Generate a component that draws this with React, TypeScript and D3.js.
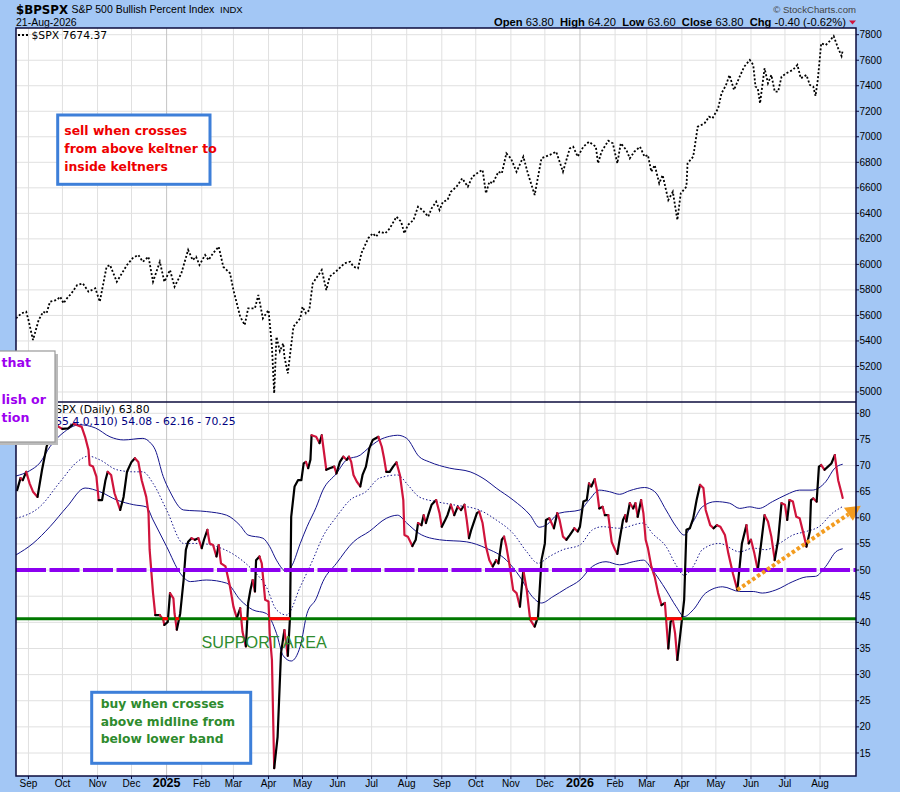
import React from "react";
import * as d3 from "d3";

// ---------- DATA ----------
const START_DATE = "2024-08-21";
const END_DATE = "2026-08-21";

// [days since START_DATE, $SPX close]
const spxSeries: [number, number][] = [
  [0,5577],[5,5617],[9,5629],[11,5564],[15,5407],[20,5564],[24,5629],[27,5617],[30,5708],[36,5721],[39,5747],[42,5695],[45,5734],[49,5773],[54,5838],[59,5851],[64,5786],[70,5813],[74,5708],[80,5982],[83,5995],[89,5864],[98,5995],[103,6048],[108,6074],[112,6021],[117,6060],[121,5864],[127,6021],[131,5864],[136,5956],[140,5825],[146,5930],[152,6113],[156,6034],[159,6060],[162,5995],[167,6074],[170,6034],[174,6087],[179,6139],[183,5982],[189,5930],[192,5799],[198,5590],[202,5525],[205,5656],[211,5656],[214,5760],[218,5577],[223,5642],[226,5355],[228,4990],[230,5433],[233,5320],[236,5381],[237,5277],[240,5146],[245,5512],[251,5577],[253,5668],[256,5617],[259,5642],[262,5851],[270,5956],[274,5799],[277,5904],[284,5956],[290,6008],[295,6021],[298,5982],[302,5969],[305,6087],[311,6204],[315,6243],[318,6217],[321,6256],[326,6243],[330,6282],[336,6374],[340,6335],[343,6243],[346,6308],[351,6348],[355,6452],[359,6426],[364,6374],[367,6439],[371,6491],[374,6426],[377,6491],[381,6504],[384,6569],[389,6609],[394,6674],[399,6609],[403,6687],[409,6726],[412,6740],[415,6557],[418,6648],[421,6635],[426,6726],[429,6713],[433,6870],[437,6831],[442,6726],[448,6844],[452,6713],[458,6544],[464,6831],[471,6857],[477,6883],[483,6726],[489,6909],[492,6922],[496,6844],[501,6922],[506,6961],[512,6922],[514,6792],[517,6883],[523,6969],[527,6949],[531,6792],[534,6949],[539,6896],[542,6831],[546,6883],[551,6922],[555,6844],[558,6857],[561,6726],[564,6778],[568,6635],[571,6700],[576,6504],[580,6569],[584,6348],[587,6557],[592,6609],[593,6792],[598,6844],[602,7079],[608,7105],[612,7157],[615,7145],[620,7223],[623,7341],[627,7406],[630,7484],[634,7367],[639,7471],[643,7549],[648,7602],[651,7563],[653,7393],[655,7380],[657,7262],[661,7537],[664,7419],[667,7484],[670,7354],[673,7354],[676,7471],[680,7497],[686,7524],[690,7563],[693,7458],[698,7484],[701,7406],[704,7393],[706,7320],[708,7445],[711,7733],[715,7719],[718,7745],[722,7790],[726,7693],[729,7633],[730,7674.37]
];

// [days since START_DATE, $BPSPX]
const bpspxSeries: [number, number][] = [
  [1,65.3],[4,67.6],[6,67.2],[9,68.8],[12,66.6],[15,65.0],[19,64.0],[23,69.2],[27,73.6],[32,76.5],[37,77.5],[41,77.0],[46,77.1],[51,78.0],[58,77.4],[61,75.5],[64,73.0],[65,70.1],[68,69.8],[71,67.9],[73,63.4],[76,63.4],[79,67.2],[81,68.8],[84,68.2],[87,64.7],[92,61.5],[95,64.0],[98,68.8],[102,70.7],[105,71.4],[108,70.7],[111,67.2],[115,64.0],[117,60.9],[118,53.9],[121,45.6],[123,41.4],[127,41.4],[130,40.5],[131,39.5],[134,40.1],[136,45.6],[139,44.6],[140,41.7],[142,38.6],[145,41.7],[148,48.1],[150,53.9],[152,55.4],[155,56.1],[158,55.8],[161,56.1],[164,54.2],[166,55.8],[169,57.7],[171,55.1],[174,54.8],[177,52.6],[179,54.8],[181,51.3],[185,50.7],[189,46.8],[192,43.0],[195,40.8],[198,42.7],[200,38.2],[203,35.4],[205,43.7],[207,46.2],[209,48.1],[211,45.9],[212,51.9],[215,52.6],[217,51.3],[220,44.3],[223,44.0],[224,37.9],[226,32.8],[228,12.1],[231,18.1],[234,34.1],[237,38.5],[240,33.6],[242,41.1],[243,60.2],[246,66.0],[249,67.2],[252,67.2],[254,70.4],[256,70.7],[258,69.5],[260,71.1],[261,75.8],[265,75.5],[268,74.3],[270,75.8],[274,69.2],[277,69.5],[281,69.8],[283,68.5],[286,70.7],[289,71.7],[292,71.1],[294,71.7],[296,70.7],[298,68.2],[301,66.9],[304,66.0],[306,68.2],[309,69.8],[312,73.3],[315,74.9],[320,75.5],[323,73.6],[325,71.4],[327,68.8],[330,68.8],[333,69.8],[336,70.6],[339,68.2],[342,63.4],[343,56.7],[346,56.4],[350,54.6],[353,55.8],[355,59.0],[358,58.6],[360,60.5],[362,59.0],[364,60.5],[367,62.5],[371,63.4],[374,60.9],[376,58.3],[379,59.6],[381,60.5],[384,62.5],[387,60.5],[390,62.1],[393,61.5],[396,62.5],[398,59.6],[400,56.1],[402,57.7],[407,60.9],[409,61.2],[412,59.0],[415,54.5],[418,51.9],[421,50.7],[424,51.9],[426,51.3],[429,55.8],[431,56.4],[433,54.5],[436,50.7],[439,46.2],[442,45.6],[445,43.0],[448,50.0],[451,46.2],[454,40.5],[458,39.2],[461,41.1],[464,51.9],[467,55.1],[468,59.6],[471,59.9],[475,58.0],[478,60.9],[480,59.6],[483,56.4],[486,55.8],[489,56.7],[493,58.0],[496,57.4],[498,58.3],[501,63.1],[504,63.4],[506,66.6],[508,66.0],[511,67.4],[513,65.3],[515,61.8],[518,62.1],[520,60.5],[523,60.5],[526,55.4],[529,53.9],[531,53.1],[533,55.8],[536,59.6],[538,60.5],[539,59.3],[542,62.8],[545,61.8],[547,62.8],[549,60.2],[552,63.4],[554,60.9],[556,55.8],[558,54.2],[561,50.7],[564,48.7],[567,45.6],[570,43.3],[573,43.7],[576,35.0],[578,40.1],[580,40.5],[582,37.9],[584,32.8],[587,38.5],[590,44.3],[592,57.7],[595,58.0],[598,59.9],[601,63.4],[604,66.3],[607,65.7],[609,61.5],[613,58.6],[616,58.0],[619,58.6],[622,58.3],[626,56.7],[629,53.2],[633,49.4],[637,46.2],[639,50.7],[641,55.1],[645,58.6],[647,55.1],[649,55.8],[652,53.2],[655,50.0],[658,55.1],[661,60.5],[664,59.3],[667,56.4],[670,51.9],[673,55.8],[676,62.8],[679,62.5],[681,59.6],[683,63.4],[686,63.1],[689,60.2],[692,59.9],[696,56.4],[698,54.5],[701,57.4],[702,63.4],[704,63.7],[707,63.1],[709,69.8],[711,70.1],[714,69.2],[717,69.8],[720,70.4],[723,72.0],[726,67.2],[729,64.7],[730,63.8]
];

// Keltner channel KC(55,4.0,110): upper / middle / lower
const kcUpper: [number, number][] = [
  [0,68.0],[12,69.0],[21,70.5],[30,73.6],[43,76.5],[56,77.8],[70,77.2],[83,75.5],[95,74.9],[112,75.2],[118,74.5],[123,73.0],[130,67.9],[136,65.0],[148,61.5],[168,61.2],[186,60.5],[198,58.5],[205,56.7],[218,56.1],[224,54.5],[230,51.9],[239,49.7],[244,51.0],[251,55.1],[257,58.3],[265,62.0],[271,65.3],[283,68.5],[292,71.1],[304,72.0],[311,73.3],[321,74.9],[330,75.6],[337,75.8],[345,75.2],[356,71.7],[365,70.7],[383,69.5],[401,68.8],[415,67.2],[424,65.7],[439,63.4],[454,60.5],[462,58.2],[468,58.6],[480,60.9],[498,61.5],[506,63.4],[515,65.3],[524,65.0],[533,64.5],[542,65.2],[555,65.8],[564,65.0],[574,61.5],[583,58.3],[590,56.7],[598,59.3],[606,62.1],[618,63.1],[630,62.8],[639,61.8],[648,62.1],[656,61.8],[668,63.1],[680,64.4],[692,65.3],[703,65.3],[715,66.9],[723,69.5],[730,70.25]
];
const kcMiddle: [number, number][] = [
  [0,59.9],[21,62.1],[39,66.9],[54,70.7],[64,71.8],[74,71.1],[89,69.2],[104,68.8],[112,68.8],[121,66.6],[133,61.5],[148,55.1],[162,55.1],[177,54.5],[195,52.6],[209,50.0],[221,46.8],[230,42.4],[239,41.4],[251,46.8],[262,51.9],[271,56.4],[283,60.2],[295,63.4],[309,65.0],[321,67.6],[337,68.2],[346,66.3],[356,64.0],[371,63.1],[386,62.5],[409,61.5],[424,59.6],[439,57.0],[451,53.5],[461,51.3],[471,52.6],[483,53.9],[498,54.8],[509,57.7],[518,58.3],[533,58.0],[554,59.0],[562,57.0],[574,54.5],[583,50.9],[590,49.0],[598,50.7],[606,53.9],[621,55.1],[639,53.5],[651,54.2],[662,53.9],[674,55.1],[686,56.7],[698,57.4],[709,58.3],[721,60.9],[730,62.16]
];
const kcLower: [number, number][] = [
  [0,52.9],[15,55.1],[30,58.3],[45,62.1],[61,65.7],[74,65.0],[89,63.4],[104,62.5],[115,62.1],[121,59.6],[133,54.5],[145,49.4],[154,47.8],[168,48.1],[186,47.5],[198,44.3],[209,42.4],[221,41.7],[230,37.9],[236,33.6],[243,32.6],[251,35.4],[257,41.7],[265,44.5],[271,47.8],[283,51.3],[298,55.4],[312,57.4],[327,59.9],[337,60.5],[345,59.0],[356,57.0],[374,55.8],[398,55.4],[415,54.2],[433,51.9],[445,48.7],[456,44.9],[464,43.7],[474,44.9],[486,46.5],[498,48.1],[509,50.7],[521,51.6],[533,51.0],[545,51.6],[554,51.9],[562,50.0],[574,46.2],[583,43.0],[590,41.1],[598,42.4],[609,45.6],[624,46.8],[639,45.9],[651,45.9],[659,45.6],[671,46.2],[686,47.8],[698,48.7],[706,48.8],[715,50.7],[724,53.5],[730,54.08]
];

const spxTicks = [5000,5200,5400,5600,5800,6000,6200,6400,6600,6800,7000,7200,7400,7600,7800];
const bpTicks = [15,20,25,30,35,40,45,50,55,60,65,70,75,80];
const monthTicks: [string, string][] = [
  ["2024-09-01","Sep"],["2024-10-01","Oct"],["2024-11-01","Nov"],["2024-12-01","Dec"],
  ["2025-01-01","2025"],["2025-02-01","Feb"],["2025-03-01","Mar"],["2025-04-01","Apr"],
  ["2025-05-01","May"],["2025-06-01","Jun"],["2025-07-01","Jul"],["2025-08-01","Aug"],
  ["2025-09-01","Sep"],["2025-10-01","Oct"],["2025-11-01","Nov"],["2025-12-01","Dec"],
  ["2026-01-01","2026"],["2026-02-01","Feb"],["2026-03-01","Mar"],["2026-04-01","Apr"],
  ["2026-05-01","May"],["2026-06-01","Jun"],["2026-07-01","Jul"],["2026-08-01","Aug"]
];

const MIDLINE_LEVEL = 50;
const SUPPORT_LEVEL = 40.7;
const trendArrow: [number, number][] = [[637, 46.2], [746, 62.3]];

const quote = { open: "63.80", high: "64.20", low: "63.60", close: "63.80", chg: "-0.40 (-0.62%)" };
const kcLegend = "KC(55,4.0,110) 54.08 - 62.16 - 70.25";

// ---------- STYLE ----------
const FRAME = "#a3c7f5";
const NAVY = "#0b0b3d";
const KC = "#14148c";
const RED = "#d0143c";
const GRID = "#e0e0e0";
const GRID_YEAR = "#c4c4c4";
const SANS = "'Liberation Sans', Arial, sans-serif";
const VERD = "'DejaVu Sans', Verdana, sans-serif";

const L = 16, R = 856, TOP1 = 28, SPLIT = 402, BOT2 = 776;

export default function App() {
  React.useEffect(() => { document.body.style.margin = "0"; }, []);

  const parse = d3.timeParse("%Y-%m-%d");
  const start = parse(START_DATE)!;
  const end = parse(END_DATE)!;
  const x = d3.scaleTime().domain([start, end]).range([16, 842.7]);
  const xd = (day: number) => x(new Date(start.getTime() + day * 86400000));
  const ySpx = d3.scaleLinear().domain([4921.5, 7852.5]).range([SPLIT, TOP1]);
  const yBp = d3.scaleLinear().domain([10.6, 82.16]).range([BOT2, SPLIT]);

  const spxLine = d3.line<[number, number]>().x(d => xd(d[0])).y(d => ySpx(d[1]));
  const bpLine = d3.line<[number, number]>().x(d => xd(d[0])).y(d => yBp(d[1]));
  const bandLine = d3.line<[number, number]>().x(d => xd(d[0])).y(d => yBp(d[1])).curve(d3.curveMonotoneX);

  // colour-coded runs: rising black, falling red
  const runs: { color: string; pts: [number, number][] }[] = [];
  for (let i = 1; i < bpspxSeries.length; i++) {
    const up = bpspxSeries[i][1] >= bpspxSeries[i - 1][1];
    const color = up ? "#000" : RED;
    const last = runs[runs.length - 1];
    if (last && last.color === color) last.pts.push(bpspxSeries[i]);
    else runs.push({ color, pts: [bpspxSeries[i - 1], bpspxSeries[i]] });
  }

  // spans below the support level
  const spans: [number, number][] = [];
  let cur: number | null = bpspxSeries[0][1] < SUPPORT_LEVEL ? bpspxSeries[0][0] : null;
  for (let i = 1; i < bpspxSeries.length; i++) {
    const [d0, v0] = bpspxSeries[i - 1];
    const [d1, v1] = bpspxSeries[i];
    if ((v0 < SUPPORT_LEVEL) !== (v1 < SUPPORT_LEVEL)) {
      const dc = d0 + ((SUPPORT_LEVEL - v0) / (v1 - v0)) * (d1 - d0);
      if (v1 < SUPPORT_LEVEL) cur = dc;
      else { spans.push([cur as number, dc]); cur = null; }
    }
  }
  if (cur !== null) spans.push([cur, bpspxSeries[bpspxSeries.length - 1][0]]);

  const months = monthTicks.map(([d, label]) => ({ x: x(parse(d)!), label, year: /^\d{4}$/.test(label) }));

  // arrow
  const ax0 = xd(trendArrow[0][0]), ay0 = yBp(trendArrow[0][1]);
  const ax1 = xd(trendArrow[1][0]), ay1 = yBp(trendArrow[1][1]);
  const ang = Math.atan2(ay1 - ay0, ax1 - ax0);
  const hl = 15, hw = 8;
  const bx = ax1 - hl * Math.cos(ang), by = ay1 - hl * Math.sin(ang);
  const head = [
    [ax1, ay1],
    [bx + hw * Math.sin(ang), by - hw * Math.cos(ang)],
    [bx - hw * Math.sin(ang), by + hw * Math.cos(ang)],
  ].map(p => p.join(",")).join(" ");

  return (
    <svg width={900} height={792} style={{ display: "block", position: "fixed", left: 0, top: 0 }} xmlns="http://www.w3.org/2000/svg">
      <defs>
        <clipPath id="c1"><rect x={L} y={TOP1} width={R - L} height={SPLIT - TOP1} /></clipPath>
        <clipPath id="c2"><rect x={L} y={SPLIT} width={R - L} height={BOT2 - SPLIT} /></clipPath>
      </defs>
      <rect x={0} y={0} width={900} height={792} fill={FRAME} />
      <rect x={L} y={TOP1} width={R - L} height={BOT2 - TOP1} fill="#fff" />

      {/* header */}
      <text x={16} y={13.5} fontFamily={VERD} fontWeight="bold" fontSize={11.8} fill="#000">$BPSPX</text>
      <text x={71.5} y={13.3} fontFamily={SANS} fontSize={10.5} fill="#000">S&amp;P 500 Bullish Percent Index</text>
      <text x={220} y={13.3} fontFamily={SANS} fontSize={9.5} fill="#000">INDX</text>
      <text x={16} y={26} fontFamily={SANS} fontSize={10.5} fill="#000">21-Aug-2026</text>
      <text x={856} y={12.5} textAnchor="end" fontFamily={SANS} fontSize={9.6} fill="#444">© StockCharts.com</text>
      <text x={846} y={26} textAnchor="end" fontFamily={SANS} fontSize={11.2} fill="#000" xmlSpace="preserve">
        <tspan fontWeight="bold">Open</tspan> {quote.open}{"  "}<tspan fontWeight="bold">High</tspan> {quote.high}{"  "}<tspan fontWeight="bold">Low</tspan> {quote.low}{"  "}<tspan fontWeight="bold">Close</tspan> {quote.close}{"  "}<tspan fontWeight="bold">Chg</tspan> {quote.chg}
      </text>
      <polygon points="849,20.5 856,20.5 852.5,24.5" fill={RED} />

      {/* grids */}
      <g clipPath="url(#c1)">
        {spxTicks.map(t => <line key={t} x1={L} x2={R} y1={ySpx(t)} y2={ySpx(t)} stroke={GRID} strokeWidth={1} />)}
        {months.map((m, i) => <line key={i} x1={m.x} x2={m.x} y1={TOP1} y2={SPLIT} stroke={m.year ? GRID_YEAR : GRID} strokeWidth={1} />)}
      </g>
      <g clipPath="url(#c2)">
        {bpTicks.map(t => <line key={t} x1={L} x2={R} y1={yBp(t)} y2={yBp(t)} stroke={GRID} strokeWidth={1} />)}
        {months.map((m, i) => <line key={i} x1={m.x} x2={m.x} y1={SPLIT} y2={BOT2} stroke={m.year ? GRID_YEAR : GRID} strokeWidth={1} />)}
      </g>

      {/* top panel: SPX */}
      <g clipPath="url(#c1)">
        <path d={spxLine(spxSeries) || ""} fill="none" stroke="#000" strokeWidth={1.8} strokeDasharray="2 2" />
      </g>
      <line x1={18} x2={28} y1={35} y2={35} stroke="#000" strokeWidth={1.8} strokeDasharray="2 2" />
      <text x={31.5} y={39} fontFamily={VERD} fontSize={10.8} fill="#000">$SPX 7674.37</text>

      {/* bottom panel */}
      <g clipPath="url(#c2)">
        <path d={bandLine(kcUpper) || ""} fill="none" stroke={KC} strokeWidth={1} />
        <path d={bandLine(kcLower) || ""} fill="none" stroke={KC} strokeWidth={1} />
        <path d={bandLine(kcMiddle) || ""} fill="none" stroke={KC} strokeWidth={1} strokeDasharray="1.5 2" />
        {runs.map((r, i) => (
          <path key={i} d={bpLine(r.pts) || ""} fill="none" stroke={r.color} strokeWidth={2.2} strokeLinejoin="round" strokeLinecap="round" />
        ))}
        <line x1={L} x2={R} y1={yBp(MIDLINE_LEVEL)} y2={yBp(MIDLINE_LEVEL)} stroke="#8c00f0" strokeWidth={4} strokeDasharray="30 3.5" />
        <line x1={L} x2={R} y1={yBp(SUPPORT_LEVEL)} y2={yBp(SUPPORT_LEVEL)} stroke="#007800" strokeWidth={3} />
        {spans.map((s, i) => (
          <line key={i} x1={xd(s[0])} x2={xd(s[1])} y1={yBp(SUPPORT_LEVEL)} y2={yBp(SUPPORT_LEVEL)} stroke="#ff0000" strokeWidth={3} />
        ))}
      </g>
      <text x={34.5} y={413} fontFamily={VERD} fontSize={10.8} fill="#000">$BPSPX (Daily) 63.80</text>
      <text x={37} y={424.5} fontFamily={VERD} fontSize={10.8} fill="#000080">{kcLegend}</text>

      {/* orange trend arrow */}
      <line x1={ax0} y1={ay0} x2={bx} y2={by} stroke="#f39c1f" strokeWidth={4} strokeDasharray="3.5 2.5" />
      <polygon points={head} fill="#f39c1f" />

      <text x={201.5} y={647.5} fontFamily={SANS} fontSize={16.2} fill="#2e8b2e">SUPPORT AREA</text>

      {/* frame borders */}
      <rect x={L} y={TOP1} width={R - L} height={BOT2 - TOP1} fill="none" stroke={NAVY} strokeWidth={1.5} />
      <line x1={L} x2={R} y1={SPLIT} y2={SPLIT} stroke={NAVY} strokeWidth={1.5} />

      {/* right axes */}
      {spxTicks.map(t => (
        <g key={t}>
          <line x1={R} x2={R + 3} y1={ySpx(t)} y2={ySpx(t)} stroke={NAVY} />
          <text x={R + 3.5} y={ySpx(t)} dy="0.35em" fontFamily={SANS} fontSize={10} fill="#000">{t}</text>
        </g>
      ))}
      {bpTicks.map(t => (
        <g key={t}>
          <line x1={R} x2={R + 3} y1={yBp(t)} y2={yBp(t)} stroke={NAVY} />
          <text x={R + 3.5} y={yBp(t)} dy="0.35em" fontFamily={SANS} fontSize={10} fill="#000">{t}</text>
        </g>
      ))}

      {/* x axis */}
      {months.map((m, i) => (
        <g key={i}>
          <line x1={m.x} x2={m.x} y1={BOT2} y2={BOT2 + 3} stroke={NAVY} />
          <text x={m.x} y={787} textAnchor="middle"
            fontFamily={m.year ? "'Liberation Sans Narrow', 'Liberation Sans', sans-serif" : SANS}
            fontWeight={m.year ? "bold" : "normal"} fontSize={m.year ? 12.5 : 10} fill="#000">{m.label}</text>
        </g>
      ))}

      {/* annotation: sell */}
      <rect x={57.7} y={115} width={152.3} height={69.3} fill="#fff" stroke="#3d7fd9" strokeWidth={3} />
      <g fontFamily={VERD} fontWeight="bold" fontSize={12.4} fill="#ee0000">
        <text x={64.3} y={134.5}>sell when crosses</text>
        <text x={64.3} y={152.8}>from above keltner to</text>
        <text x={64.3} y={171.1}>inside keltners</text>
      </g>

      {/* annotation: buy */}
      <rect x={91.7} y={692.3} width={159} height={71} fill="#fff" stroke="#3d7fd9" strokeWidth={3} />
      <g fontFamily={VERD} fontWeight="bold" fontSize={12.3} fill="#2e8b2e">
        <text x={100.7} y={707.8}>buy when crosses</text>
        <text x={100.7} y={725.5}>above midline from</text>
        <text x={100.7} y={742.8}>below lower band</text>
      </g>

      {/* annotation: purple (box runs off the left edge) */}
      <rect x={-6} y={354} width={64} height={91} fill="#bbbbbb" />
      <rect x={-6} y={351} width={61} height={91} fill="#fff" stroke="#999" strokeWidth={1.2} />
      <g fontFamily={VERD} fontWeight="bold" fontSize={12.6} fill="#9d00f0">
        <text x={1.5} y={367}>that</text>
        <text x={1.5} y={403.5}>lish or</text>
        <text x={1.5} y={422}>tion</text>
      </g>
    </svg>
  );
}
